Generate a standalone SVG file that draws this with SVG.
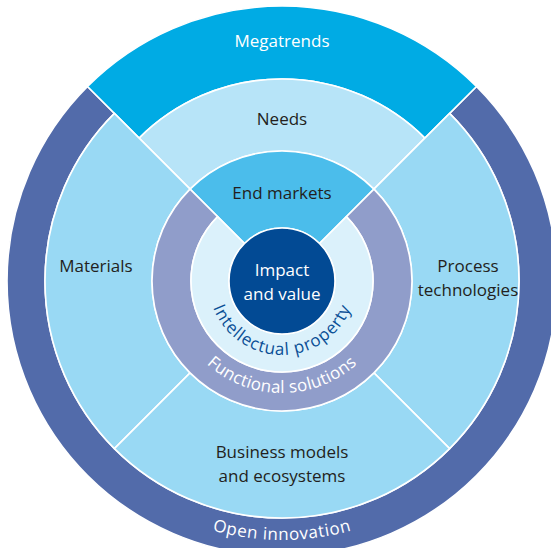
<svg xmlns="http://www.w3.org/2000/svg" width="551" height="548" viewBox="0 0 551 548">
<style>
  .seg { stroke: #ffffff; stroke-width: 1.6; stroke-linejoin: miter; }
  .t { font-family: "Open Sans", "Noto Sans", "DejaVu Sans", sans-serif; font-size: 17px; text-anchor: middle; }
  .dark { fill: #231f20; }
  .light { fill: #ffffff; }
  .ip { fill: #0a4f96; }
</style>
<defs>
  <path id="arcOpen" d="M23,281 A259,259 0 0 0 541,281"/>
  <path id="arcFunc" d="M170,281 A112,112 0 0 0 394,281"/>
  <path id="arcIP" d="M208,281 A74,74 0 0 0 356,281"/>
</defs>
<rect width="551" height="548" fill="#ffffff"/>
<g id="connectors"></g>
<g id="open-innovation">
  <path class="seg" fill="#526baa" d="M476.46,86.55 A275,275 0 1 1 87.55,86.55 L114.42,113.42 A237,237 0 1 0 449.59,113.42 Z"/>
  <text class="t light" letter-spacing="0.6"><textPath href="#arcOpen" startOffset="50%">Open innovation</textPath></text>
</g>
<g id="megatrends">
  <path class="seg" fill="#00abe4" d="M87.55,86.55 A275,275 0 0 1 476.46,86.55 L424.84,138.16 A202,202 0 0 0 139.16,138.16 Z"/>
  <text class="t light" x="282" y="47">Megatrends</text>
</g>
<g id="needs">
  <path class="seg" fill="#b7e4f8" d="M139.16,138.16 A202,202 0 0 1 424.84,138.16 L373.92,189.08 A130,130 0 0 0 190.08,189.08 Z"/>
  <text class="t dark" x="282" y="125">Needs</text>
</g>
<g id="materials">
  <path class="seg" fill="#99d9f4" d="M114.42,448.59 A237,237 0 0 1 114.42,113.42 L190.08,189.08 A130,130 0 0 0 190.08,372.92 Z"/>
  <text class="t dark" x="96" y="272">Materials</text>
</g>
<g id="process-technologies">
  <path class="seg" fill="#99d9f4" d="M449.59,113.42 A237,237 0 0 1 449.59,448.59 L373.92,372.92 A130,130 0 0 0 373.92,189.08 Z"/>
  <text class="t dark" x="468" y="272">Process</text>
  <text class="t dark" x="468" y="296">technologies</text>
</g>
<g id="business-models">
  <path class="seg" fill="#99d9f4" d="M449.59,448.59 A237,237 0 0 1 114.42,448.59 L190.08,372.92 A130,130 0 0 0 373.92,372.92 Z"/>
  <text class="t dark" x="282" y="458">Business models</text>
  <text class="t dark" x="282" y="482">and ecosystems</text>
</g>
<g id="end-markets">
  <path class="seg" fill="#4bbdeb" d="M190.08,189.08 A130,130 0 0 1 373.92,189.08 L319.48,243.52 A53,53 0 0 0 244.52,243.52 Z"/>
  <text class="t dark" x="282" y="199">End markets</text>
</g>
<g id="functional-solutions">
  <path class="seg" fill="#909dca" d="M373.92,189.08 A130,130 0 1 1 190.08,189.08 L217.65,216.65 A91,91 0 1 0 346.35,216.65 Z"/>
  <text class="t light" letter-spacing="0.3"><textPath href="#arcFunc" startOffset="50%">Functional solutions</textPath></text>
</g>
<g id="intellectual-property">
  <path class="seg" fill="#dbf1fb" d="M346.35,216.65 A91,91 0 1 1 217.65,216.65 L244.52,243.52 A53,53 0 1 0 319.48,243.52 Z"/>
  <text class="t ip" letter-spacing="0.8"><textPath href="#arcIP" startOffset="50%">Intellectual property</textPath></text>
</g>
<g id="impact-and-value">
  <circle class="seg" cx="282" cy="281" r="53" fill="#024a94"/>
  <text class="t light" x="282" y="276">Impact</text>
  <text class="t light" x="282" y="300">and value</text>
</g>
</svg>
